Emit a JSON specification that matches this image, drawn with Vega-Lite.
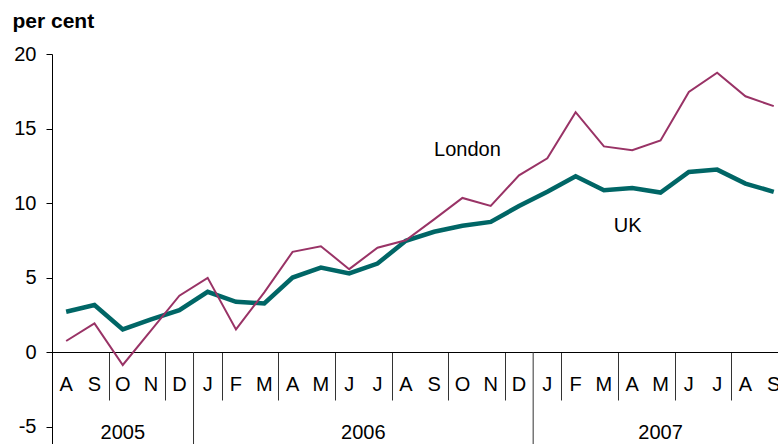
{
  "$schema": "https://vega.github.io/schema/vega-lite/v6.json",
  "width": 726,
  "height": 390,
  "autosize": {"type": "none"},
  "padding": {"left": 52, "top": 54, "right": 0, "bottom": 0},
  "background": "white",
  "config": {"view": {"stroke": null}, "font": "Liberation Sans", "axis": {"grid": false}},
  "datasets": {
    "months": [
      {"t": 0, "month": "A", "year": "2005", "UK": 2.70, "London": 0.74},
      {"t": 1, "month": "S", "year": "2005", "UK": 3.15, "London": 1.92},
      {"t": 2, "month": "O", "year": "2005", "UK": 1.52, "London": -0.87},
      {"t": 3, "month": "N", "year": "2005", "UK": 2.19, "London": 1.45},
      {"t": 4, "month": "D", "year": "2005", "UK": 2.81, "London": 3.78},
      {"t": 5, "month": "J", "year": "2006", "UK": 4.04, "London": 4.98},
      {"t": 6, "month": "F", "year": "2006", "UK": 3.37, "London": 1.52},
      {"t": 7, "month": "M", "year": "2006", "UK": 3.26, "London": 4.0},
      {"t": 8, "month": "A", "year": "2006", "UK": 5.0, "London": 6.72},
      {"t": 9, "month": "M", "year": "2006", "UK": 5.67, "London": 7.1},
      {"t": 10, "month": "J", "year": "2006", "UK": 5.27, "London": 5.56},
      {"t": 11, "month": "J", "year": "2006", "UK": 5.94, "London": 7.0},
      {"t": 12, "month": "A", "year": "2006", "UK": 7.46, "London": 7.5},
      {"t": 13, "month": "S", "year": "2006", "UK": 8.07, "London": 8.9},
      {"t": 14, "month": "O", "year": "2006", "UK": 8.47, "London": 10.34},
      {"t": 15, "month": "N", "year": "2006", "UK": 8.73, "London": 9.8},
      {"t": 16, "month": "D", "year": "2006", "UK": 9.8, "London": 11.86},
      {"t": 17, "month": "J", "year": "2007", "UK": 10.75, "London": 13.0},
      {"t": 18, "month": "F", "year": "2007", "UK": 11.8, "London": 16.1},
      {"t": 19, "month": "M", "year": "2007", "UK": 10.86, "London": 13.8},
      {"t": 20, "month": "A", "year": "2007", "UK": 11.01, "London": 13.54},
      {"t": 21, "month": "M", "year": "2007", "UK": 10.7, "London": 14.2},
      {"t": 22, "month": "J", "year": "2007", "UK": 12.08, "London": 17.45},
      {"t": 23, "month": "J", "year": "2007", "UK": 12.24, "London": 18.74},
      {"t": 24, "month": "A", "year": "2007", "UK": 11.3, "London": 17.16},
      {"t": 25, "month": "S", "year": "2007", "UK": 10.75, "London": 16.5}
    ],
    "yearBreaks": [
      {"year": "2005", "boundary": 4.5},
      {"year": "2006", "boundary": 16.5}
    ],
    "labels": [
      {"label": "London", "t": 13, "v": 13.15},
      {"label": "UK", "t": 19.35, "v": 8.05}
    ]
  },
  "layer": [
    {
      "data": {"name": "months"},
      "mark": {"type": "line", "color": "#006666", "strokeWidth": 4.5, "strokeJoin": "miter"},
      "encoding": {
        "x": {
          "field": "t", "type": "quantitative",
          "scale": {"domain": [-0.5, 25.15], "nice": false, "zero": false},
          "axis": {
            "orient": "bottom", "offset": -92, "title": null, "labels": false,
            "values": [-0.5, 0.5, 1.5, 2.5, 3.5, 4.5, 5.5, 6.5, 7.5, 8.5, 9.5, 10.5, 11.5, 12.5, 13.5, 14.5, 15.5, 16.5, 17.5, 18.5, 19.5, 20.5, 21.5, 22.5, 23.5, 24.5],
            "tickSize": 48, "tickColor": "#333333", "tickWidth": 1,
            "domainColor": "#000000", "domainWidth": 1
          }
        },
        "y": {
          "field": "UK", "type": "quantitative",
          "scale": {"domain": [-6.174, 20], "nice": false, "zero": false},
          "axis": {
            "values": [-5, 0, 5, 10, 15, 20],
            "labelExpr": "toString(datum.value)",
            "tickSize": 6, "tickColor": "#000000", "domainColor": "#000000",
            "labelFontSize": 20, "labelColor": "#000000", "labelPadding": 10,
            "title": "per cent", "titleAngle": 0, "titleAlign": "left", "titleBaseline": "alphabetic",
            "titleX": -40, "titleY": -27, "titleFontSize": 21, "titleFontWeight": "bold", "titleColor": "#000000"
          }
        }
      }
    },
    {
      "data": {"name": "months"},
      "mark": {"type": "line", "color": "#993366", "strokeWidth": 2},
      "encoding": {
        "x": {"field": "t", "type": "quantitative"},
        "y": {"field": "London", "type": "quantitative"}
      }
    },
    {
      "data": {"name": "yearBreaks"},
      "mark": {"type": "rule", "color": "#333333", "strokeWidth": 1},
      "encoding": {
        "x": {"field": "boundary", "type": "quantitative"},
        "y": {"datum": 0, "type": "quantitative"},
        "y2": {"datum": -6.174}
      }
    },
    {
      "data": {"name": "months"},
      "mark": {"type": "text", "fontSize": 20, "color": "#000000", "align": "center", "baseline": "alphabetic"},
      "encoding": {
        "x": {"field": "t", "type": "quantitative"},
        "y": {"datum": -2.62, "type": "quantitative"},
        "text": {"field": "month", "type": "nominal"}
      }
    },
    {
      "data": {"name": "months"},
      "mark": {"type": "text", "fontSize": 20, "color": "#000000", "align": "center", "baseline": "alphabetic"},
      "encoding": {
        "x": {"aggregate": "mean", "field": "t", "type": "quantitative"},
        "y": {"datum": -5.84, "type": "quantitative"},
        "text": {"field": "year", "type": "nominal"}
      }
    },
    {
      "data": {"name": "labels"},
      "mark": {"type": "text", "fontSize": 20, "color": "#000000", "align": "left", "baseline": "alphabetic"},
      "encoding": {
        "x": {"field": "t", "type": "quantitative"},
        "y": {"field": "v", "type": "quantitative"},
        "text": {"field": "label", "type": "nominal"}
      }
    }
  ]
}
